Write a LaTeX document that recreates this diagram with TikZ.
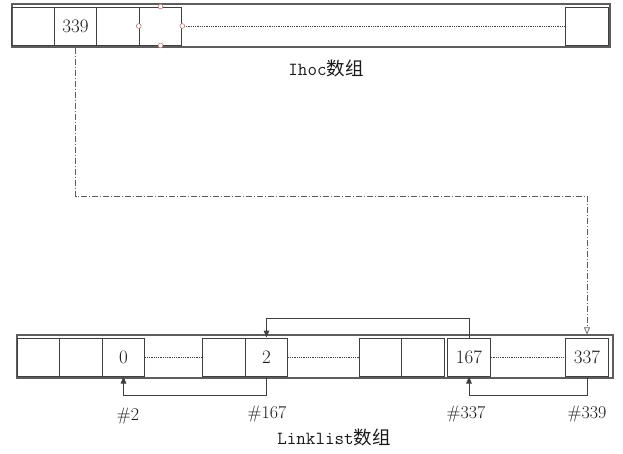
\documentclass[tikz,border=0pt]{standalone}
\usepackage{fontspec}
\newfontfamily\cjk{Noto Sans CJK SC}
\usetikzlibrary{arrows.meta}
\definecolor{ln}{HTML}{404040}
\definecolor{hd}{HTML}{C07878}
\begin{document}
\begin{tikzpicture}[x=1pt,y=-1pt,
  cell/.style={draw=ln,line width=1pt,minimum width=42.5pt,minimum height=38pt,inner sep=0pt,font=\fontsize{19}{21}\selectfont,text=black!90},
  outer/.style={draw=ln!85,line width=1.2pt,inner sep=0pt},
  dotl/.style={ln,line width=0.6pt,dash pattern=on 0.8pt off 1pt},
  dd/.style={ln!85,line width=0.9pt,dash pattern=on 6pt off 2pt on 1pt off 2pt},
  arr/.style={ln,line width=1pt,-{Triangle[length=7pt,width=5.5pt]}},
  oarr/.style={dd,-{Triangle[open,length=7pt,width=6pt,line width=0.7pt]}},
  lab/.style={font=\fontsize{18}{20}\selectfont,text=black!90},
  title/.style={font=\fontsize{18.5}{20}\selectfont\ttfamily,text=black!90},
  hdl/.style={draw=hd,fill=white,line width=0.6pt}
]
\useasboundingbox (0,0) rectangle (623,453);
% top array
\node[outer,minimum width=598pt,minimum height=43pt] (tout) at (311,25.5) {};
\node[cell] (t1) at (33,26) {};
\node[cell] (t2) at (75.5,26) {339};
\node[cell] (t3) at (118,26) {};
\node[cell] (t4) at (160.5,26) {};
\node[cell] (t5) at (587,26) {};
\draw[dotl] (t4.east) -- (t5.west);
\foreach \p in {t4.north,t4.south,t4.west,t4.east}
  \draw[hdl] (\p) circle (2.4pt);
\node[title] (ttl) at (326,68) {Ihoc{\cjk 数组}};
% bottom array
\node[outer,minimum width=596pt,minimum height=43pt] (bout) at (315,356.5) {};
\node[cell] (b1) at (38.5,357) {};
\node[cell] (b2) at (81,357) {};
\node[cell] (b3) at (123.5,357) {0};
\node[cell] (b4) at (224,357) {};
\node[cell] (b5) at (266.5,357) {2};
\node[cell] (b6) at (380.5,357) {};
\node[cell] (b7) at (423,357) {};
\node[cell] (b8) at (469,357) {167};
\node[cell] (b9) at (587,357) {337};
\draw[dotl] (b3.east) -- (b4.west);
\draw[dotl] (b5.east) -- (b6.west);
\draw[dotl] (b8.east) -- (b9.west);
% connectors
\coordinate (ddc) at (587,196);
\draw[oarr] (t2.south |- tout.south) |- (ddc) -- (b9.north |- bout.north);
\draw[arr] (b8.north) -- ++(0,-19) -| (b5.north);
\draw[arr] (b5.south) -- ++(0,19) -| (b3.south);
\draw[arr] (b9.south) -- ++(0,19) -| (b8.south);
% labels
\node[lab] (l1) at (128,416) {\#2};
\node[lab] (l2) at (267,414) {\#167};
\node[lab] (l3) at (466,414) {\#337};
\node[lab] (l4) at (587,414) {\#339};
\node[title] (btl) at (334,437) {Linklist{\cjk 数组}};
\end{tikzpicture}
\end{document}
